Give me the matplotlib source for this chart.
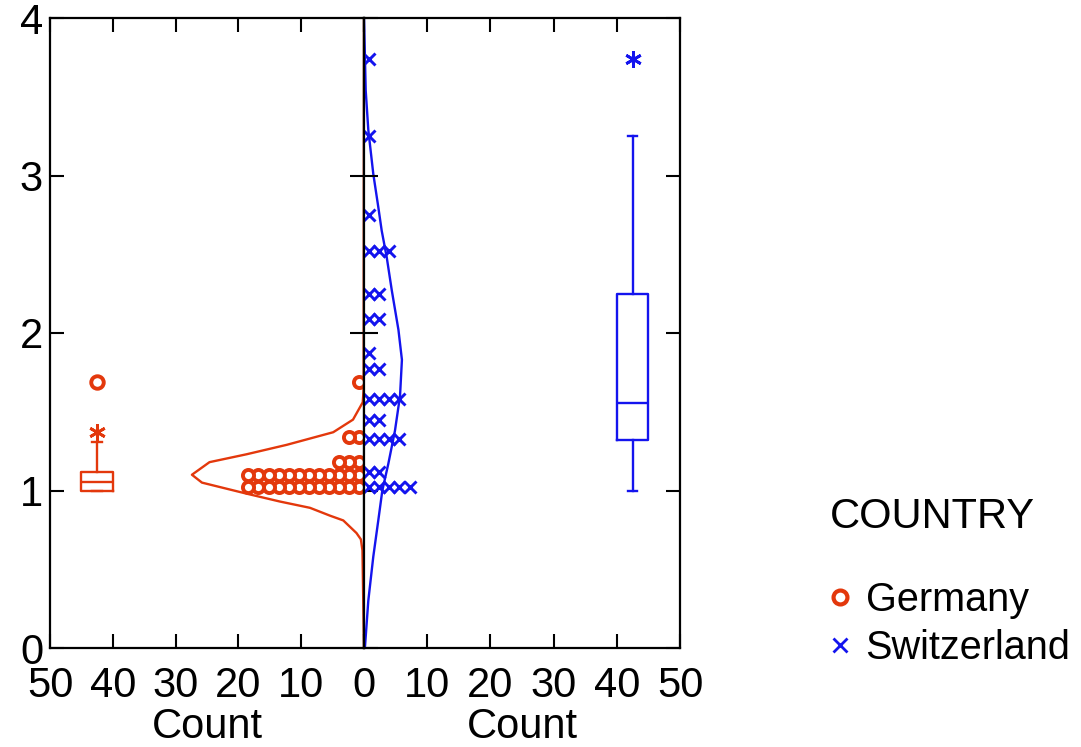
import matplotlib

matplotlib.use("Agg")
import matplotlib.pyplot as plt
from matplotlib.lines import Line2D

plt.rcParams["font.family"] = ["Liberation Sans", "DejaVu Sans"]
plt.rcParams["font.size"] = 30

# ---- data ----
GER_ROW_VALUES = [1.02, 1.10, 1.18, 1.34, 1.69]
GER_ROW_COUNTS = [12, 12, 3, 2, 1]
SUI_ROW_VALUES = [1.02, 1.12, 1.33, 1.45, 1.58, 1.77, 1.87, 2.09, 2.25, 2.52, 2.75, 3.25, 3.74]
SUI_ROW_COUNTS = [5, 2, 4, 2, 4, 2, 1, 2, 2, 3, 1, 1, 1]

# fitted normal curves (value, count) as drawn
GER_CURVE_Y = [0.0, 0.62, 0.69, 0.73, 0.81, 0.84, 0.89, 0.93, 0.98, 1.05, 1.10,
               1.18, 1.23, 1.29, 1.37, 1.45, 1.56, 1.65, 4.0]
GER_CURVE_X = [0.0, 0.25, 0.5, 1.2, 3.3, 5.4, 8.6, 13.4, 18.7, 25.8, 27.4,
               24.6, 18.7, 12.3, 4.9, 1.75, 0.2, 0.05, 0.0]
SUI_CURVE_Y = [0.0, 0.01, 0.30, 0.58, 0.81, 1.00, 1.17, 1.38, 1.60, 1.83, 2.02,
               2.27, 2.48, 2.65, 2.80, 3.01, 3.29, 3.54, 3.92, 4.0]
SUI_CURVE_X = [0.0, 0.16, 0.68, 1.47, 2.26, 2.9, 3.85, 4.9, 5.7, 6.0, 5.45,
               4.4, 3.6, 2.8, 2.26, 1.47, 0.68, 0.27, 0.05, 0.0]

# box plot summaries
GER_BOX = {"whislo": 1.0, "q1": 1.0, "med": 1.055, "q3": 1.12, "whishi": 1.31}
GER_OUT_NEAR = [1.37]
GER_OUT_FAR = [1.69]
SUI_BOX = {"whislo": 1.0, "q1": 1.32, "med": 1.555, "q3": 2.25, "whishi": 3.25}
SUI_OUT_NEAR = [3.74]
SUI_OUT_FAR = []

COUNT_TICKS = [0, 10, 20, 30, 40, 50]
Y_TICKS = [0, 1, 2, 3, 4]

GER_C = "#E3380C"
SUI_C = "#1414EE"
BOX_POS = 42.5
DOT_STEP = 1.6
ASTERISK = (6, 2, 0)

W, H = 1081, 747
fig = plt.figure(figsize=(W / 100, H / 100), dpi=100)
axL = fig.add_axes([50 / W, 99 / H, 314 / W, 630 / H])
axR = fig.add_axes([364 / W, 99 / H, 316 / W, 630 / H])


def draw_side(ax, values, counts, cx, cy, box, near, far, color, marker, mkw):
    for v, n in zip(values, counts):
        xs = [(i + 0.5) * DOT_STEP for i in range(n)]
        ax.plot(xs, [v] * n, ls="none", marker=marker, color=color, **mkw)
    ax.plot(cx, cy, color=color, lw=1.7, zorder=1.5)
    st = dict(box, fliers=[])
    props = dict(color=color, linewidth=1.7)
    ax.bxp([st], positions=[BOX_POS], widths=[5.0], capwidths=[1.5],
           showfliers=False, manage_ticks=False,
           boxprops=props, whiskerprops=props, capprops=props, medianprops=props)
    if near:
        ax.plot([BOX_POS] * len(near), near, ls="none", marker=ASTERISK,
                color=color, markersize=12, mew=2)
    if far:
        ax.plot([BOX_POS] * len(far), far, ls="none", marker="o", mfc="white",
                mec=color, markersize=9, mew=2.8)


draw_side(axL, GER_ROW_VALUES, GER_ROW_COUNTS, GER_CURVE_X, GER_CURVE_Y,
          GER_BOX, GER_OUT_NEAR, GER_OUT_FAR, GER_C, "o",
          dict(mfc="white", mec=GER_C, markersize=8, mew=2.8))
draw_side(axR, SUI_ROW_VALUES, SUI_ROW_COUNTS, SUI_CURVE_X, SUI_CURVE_Y,
          SUI_BOX, SUI_OUT_NEAR, SUI_OUT_FAR, SUI_C, "x",
          dict(markersize=8, mew=2.1))

axL.set_xlim(50, 0)
axR.set_xlim(0, 50)
for ax in (axL, axR):
    ax.set_ylim(0, 4)
    ax.set_xticks(COUNT_TICKS)
    ax.set_yticks(Y_TICKS)
    ax.set_xlabel("Count", labelpad=1)
    ax.tick_params(direction="in", length=10, width=1.5, top=True, right=True,
                   labelsize=30, pad=13)
    for sp in ax.spines.values():
        sp.set_linewidth(1.6)
axL.set_xticklabels([str(t) for t in COUNT_TICKS])
axR.set_xticklabels(["" if t == 0 else str(t) for t in COUNT_TICKS])
axL.set_yticklabels([str(t) for t in Y_TICKS])
axR.tick_params(labelleft=False)
axL.tick_params(axis="y", pad=5)

fig.text(830 / W, 1 - 517 / H, "COUNTRY", ha="left", va="center", fontsize=30)
handles = [
    Line2D([], [], ls="none", marker="o", mfc="white", mec=GER_C, markersize=10, mew=3),
    Line2D([], [], ls="none", marker="x", color=SUI_C, markersize=10, mew=2),
]
fig.legend(handles, ["Germany", "Switzerland"], loc="center left",
           bbox_to_anchor=(822 / W, 1 - 624 / H), frameon=False, fontsize=28.5,
           handlelength=0.9, handletextpad=0.2, labelspacing=0.25,
           borderpad=0, borderaxespad=0)

fig.savefig("out.png", dpi=100)
